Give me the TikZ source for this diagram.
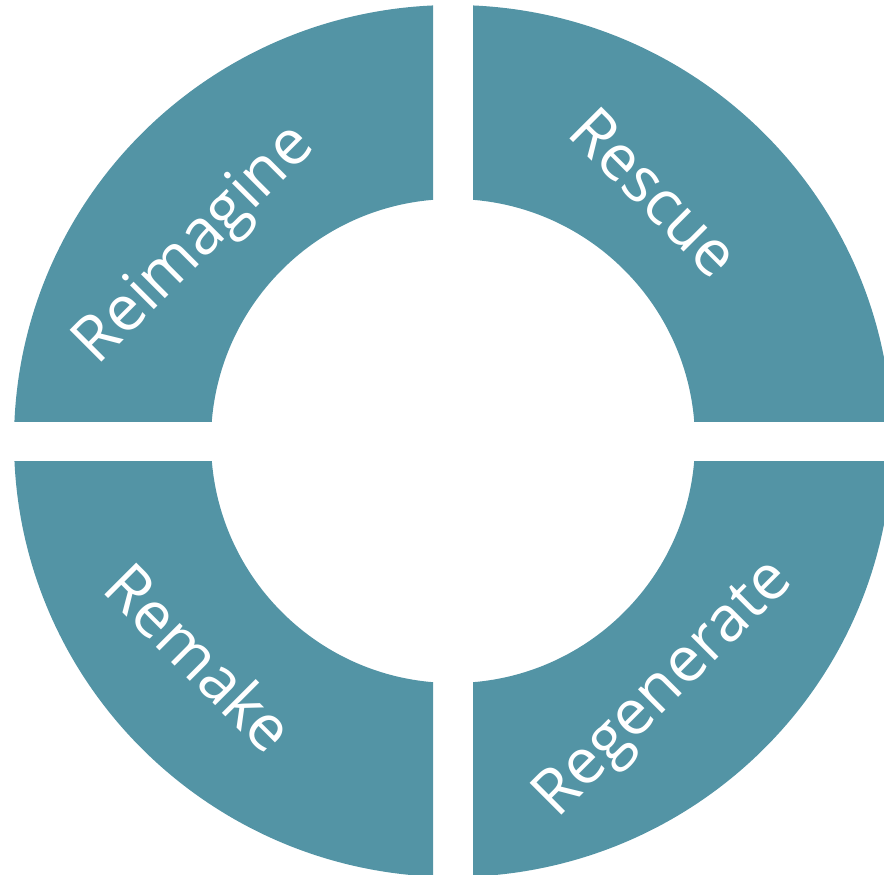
\documentclass[tikz,border=0pt]{standalone}
\usepackage{fontspec}
\setmainfont{Open Sans}
\usetikzlibrary{calc}
\definecolor{ringteal}{RGB}{83,148,165}
\tikzset{
  quarter/.style={fill=ringteal,even odd rule},
  ringlabel/.style={text=white,inner sep=0pt,font=\fontsize{63}{76}\selectfont}
}

\begin{document}
\begin{tikzpicture}[x=1pt,y=-1pt]
  \useasboundingbox (0,0) rectangle (884,875);
  \coordinate (hub) at (453,441);
  % four quarters of the ring, cut apart by the white gaps
  \foreach \sx/\sy in {1/1,-1/1,1/-1,-1/-1}{
    \begin{scope}
      \clip ($(hub)+(\sx*20,\sy*20)$) rectangle ($(hub)+(\sx*500,\sy*500)$);
      \fill[quarter] (hub) ellipse[x radius=439pt,y radius=436pt] (hub) circle[radius=242pt];
    \end{scope}
  }
  \node[ringlabel,rotate=45]  (reimagine)  at (196,246) {Reimagine};
  \node[ringlabel,rotate=-45] (rescue)     at (655,192) {Rescue};
  \node[ringlabel,rotate=-45] (remake)     at (200,657) {Remake};
  \node[ringlabel,rotate=45]  (regenerate) at (665,690) {Regenerate};
\end{tikzpicture}
\end{document}
